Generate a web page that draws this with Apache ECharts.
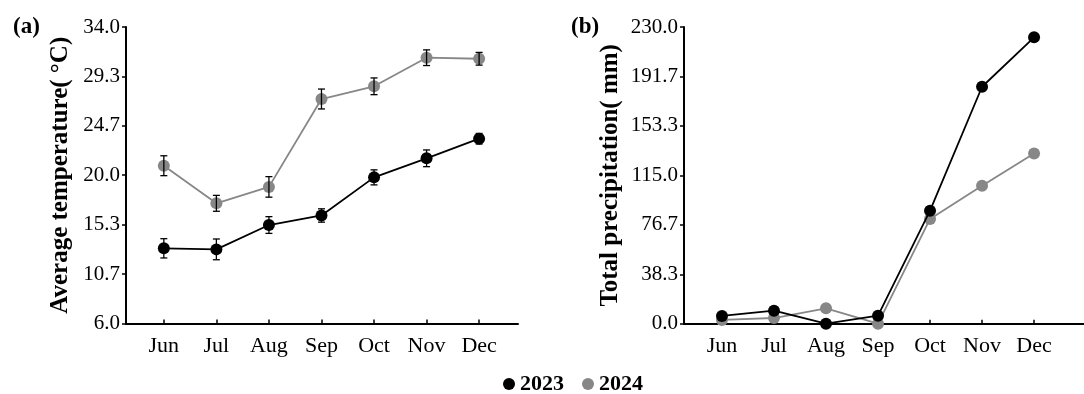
<!DOCTYPE html>
<html><head><meta charset="utf-8">
<script src="https://cdn.jsdelivr.net/npm/echarts@6/dist/echarts.min.js"></script>
<style>html,body{margin:0;padding:0;background:#fff}#c{width:1084px;height:394px}</style>
</head><body><div id="c"></div>
<script>
const months = ['Jun','Jul','Aug','Sep','Oct','Nov','Dec'];
const temp2023 = [13.1, 13.0, 15.3, 16.2, 19.8, 21.6, 23.45];
const temp2023Err = [0.91, 0.98, 0.79, 0.63, 0.71, 0.79, 0.5];
const temp2024 = [20.9, 17.35, 18.9, 27.2, 28.4, 31.1, 31.0];
const temp2024Err = [0.94, 0.75, 0.97, 0.94, 0.79, 0.74, 0.6];
const prec2023 = [6.0, 10.1, 0.0, 6.2, 87.6, 183.7, 222.0];
const prec2024 = [2.9, 4.4, 11.9, 0.0, 81.2, 107.0, 132.0];
const tempAxis = {min: 6, max: 34, step: 28/6};
const precAxis = {min: 0, max: 230, step: 230/6};

const FONT = 'Liberation Serif';
const idx = months.map((m,i)=>i);
const pts = arr => arr.map((v,i)=>[i,v]);

function errSeries(name, means, errs){
  return {
    type:'custom', name: name+'err', xAxisIndex:0, yAxisIndex:0, z:5,
    data: means.map((m,i)=>[i, m-errs[i], m+errs[i]]),
    renderItem: function(params, api){
      const x = api.value(0);
      const lo = api.coord([x, api.value(1)]);
      const hi = api.coord([x, api.value(2)]);
      const w = 3.5;
      const st = {stroke:'#000', lineWidth:1.3};
      return {type:'group', children:[
        {type:'line', shape:{x1:lo[0],y1:lo[1],x2:hi[0],y2:hi[1]}, style:st},
        {type:'line', shape:{x1:lo[0]-w,y1:lo[1],x2:lo[0]+w,y2:lo[1]}, style:st},
        {type:'line', shape:{x1:hi[0]-w,y1:hi[1],x2:hi[0]+w,y2:hi[1]}, style:st}
      ]};
    }
  };
}

function xAx(gi, min, max){
  return {
    type:'value', gridIndex:gi, min:min, max:max,
    axisLine:{show:true, onZero:false, lineStyle:{color:'#000', width:2}},
    axisTick:{show:true, inside:true, length:4, customValues: idx, lineStyle:{color:'#000', width:1.5}},
    axisLabel:{customValues: idx, formatter: v => months[Math.round(v)], color:'#000',
      fontFamily:FONT, fontSize:22, margin:12},
    splitLine:{show:false}
  };
}
function yAx(gi, ax, name, gap){
  return {
    type:'value', gridIndex:gi, min:ax.min, max:ax.max, interval:ax.step,
    name:name, nameLocation:'middle', nameGap:gap,
    nameTextStyle:{fontFamily:FONT, fontWeight:'bold', fontSize:25, color:'#000'},
    axisLine:{show:true, onZero:false, lineStyle:{color:'#000', width:2}},
    axisTick:{show:true, length:4, lineStyle:{color:'#000', width:1.5}},
    axisLabel:{formatter: v => v.toFixed(1), color:'#000', fontFamily:FONT, fontSize:21, margin:6},
    splitLine:{show:false}
  };
}

const chart = echarts.init(document.getElementById('c'));
chart.setOption({
  animation:false,
  backgroundColor:'#fff',
  title:[
    {text:'(a)', left:8, top:11, textStyle:{fontFamily:FONT, fontWeight:'bold', fontSize:23, color:'#000'}},
    {text:'(b)', left:566, top:11, textStyle:{fontFamily:FONT, fontWeight:'bold', fontSize:23, color:'#000'}}
  ],
  legend:{
    data:['2023','2024'], top:368, left:498, icon:'circle', itemWidth:12, itemHeight:12, itemGap:18,
    textStyle:{fontFamily:FONT, fontWeight:'bold', fontSize:22, color:'#000'}
  },
  grid:[
    {left:126, right:566, top:27, bottom:70.5},
    {left:684, right:0, top:27, bottom:70.3}
  ],
  xAxis:[xAx(0,-0.72,6.74), xAx(1,-0.73,6.96)],
  yAxis:[yAx(0,tempAxis,'Average temperature( °C)',53), yAx(1,precAxis,'Total precipitation( mm)',61)],
  series:[
    {name:'2024', type:'line', xAxisIndex:0, yAxisIndex:0, data:pts(temp2024), symbol:'circle', symbolSize:12,
      itemStyle:{color:'#878787'}, lineStyle:{color:'#878787', width:1.8}, z:3},
    {name:'2023', type:'line', xAxisIndex:0, yAxisIndex:0, data:pts(temp2023), symbol:'circle', symbolSize:12,
      itemStyle:{color:'#000'}, lineStyle:{color:'#000', width:1.8}, z:4},
    errSeries('2024', temp2024, temp2024Err),
    errSeries('2023', temp2023, temp2023Err),
    {name:'2024', type:'line', xAxisIndex:1, yAxisIndex:1, data:pts(prec2024), symbol:'circle', symbolSize:12,
      itemStyle:{color:'#878787'}, lineStyle:{color:'#878787', width:1.8}, z:3},
    {name:'2023', type:'line', xAxisIndex:1, yAxisIndex:1, data:pts(prec2023), symbol:'circle', symbolSize:12,
      itemStyle:{color:'#000'}, lineStyle:{color:'#000', width:1.8}, z:4}
  ]
});
</script></body></html>
